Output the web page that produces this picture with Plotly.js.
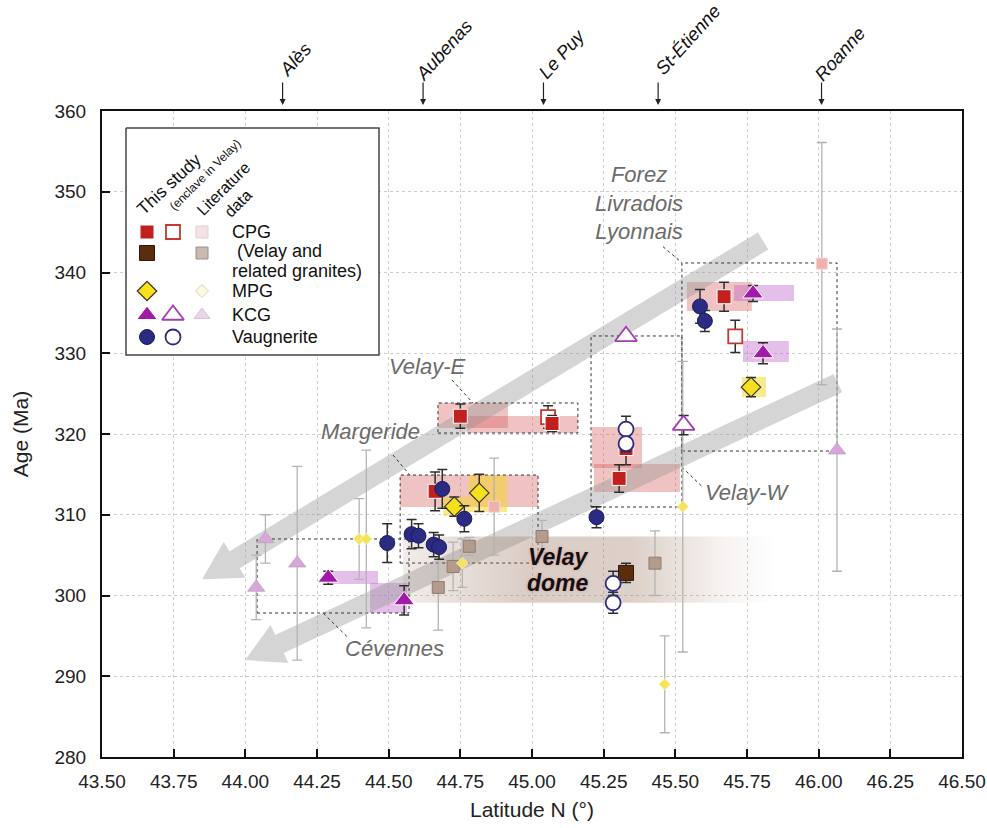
<!DOCTYPE html>
<html><head><meta charset="utf-8">
<script src="https://cdn.plot.ly/plotly-3.0.1.min.js"></script>
<style>html,body{margin:0;padding:0;background:#fff}#chart{width:987px;height:828px}</style>
</head><body><div id="chart"></div>
<script>
// ---------- data: latitude (°N), age (Ma), uncertainty (Ma) ----------
// CPG, this study
const cpgLat = [44.750, 45.070, 44.662, 45.328, 45.304, 45.670];
const cpgAge = [322.2, 321.3, 312.9, 318.2, 314.5, 337.0];
const cpgErr = [1.5, 1.0, 2.4, 2.0, 1.7, 1.8];
// CPG, enclaves in Velay
const cpgEnclLat = [45.056, 45.709];
const cpgEnclAge = [322.1, 332.1];
const cpgEnclErr = [1.4, 2.0];
// CPG, literature
const cpgLitLat = [44.868, 46.011];
const cpgLitAge = [311.0, 341.1];
const cpgLitErr = [6.0, 15.0];
// Velay and related granites
const velayLat = [45.328];
const velayAge = [302.8];
const velayErr = [1.2];
const velayLitLat = [44.673, 44.725, 44.781, 45.035, 45.429];
const velayLitAge = [301.0, 303.6, 306.1, 307.3, 304.0];
const velayLitErr = [5.3, 3.0, 1.1, 2.0, 4.0];
// MPG
const mpgLat = [44.729, 44.816, 45.764];
const mpgAge = [311.0, 312.7, 325.8];
const mpgErr = [1.2, 2.3, 1.2];
const mpgLitLat = [44.397, 44.422, 44.757, 45.463, 45.526];
const mpgLitAge = [307.0, 307.0, 304.0, 289.0, 311.0];
const mpgLitErr = [5.0, 11.0, 3.0, 6.0, 18.0];
// KCG
const kcgLat = [44.289, 44.554, 45.771, 45.806];
const kcgAge = [302.2, 299.4, 337.4, 330.0];
const kcgErr = [0.8, 1.8, 1.0, 1.3];
const kcgEnclLat = [45.328, 45.529];
const kcgEnclAge = [332.1, 321.1];
const kcgEnclErr = [0, 1.2];
const kcgLitLat = [44.070, 44.038, 44.181, 46.064];
const kcgLitAge = [307.0, 301.0, 304.0, 318.0];
const kcgLitErr = [3.0, 4.0, 12.0, 15.0];
// Vaugnerite
const vaugLat = [44.495, 44.580, 44.604, 44.657, 44.676, 44.687, 44.764, 45.225, 45.586, 45.603];
const vaugAge = [306.5, 307.6, 307.4, 306.3, 306.0, 313.2, 309.5, 309.7, 335.8, 334.0];
const vaugErr = [2.4, 1.8, 1.5, 1.5, 1.5, 2.4, 1.6, 1.3, 2.1, 1.3];
const vaugEnclLat = [45.328, 45.328, 45.283, 45.283];
const vaugEnclAge = [320.6, 318.8, 301.5, 299.1];
const vaugEnclErr = [1.6, 1.0, 1.5, 1.3];
// towns along the top axis
const cityNames = ['Alès', 'Aubenas', 'Le Puy', 'St-Étienne', 'Roanne'];
const cityLat = [44.13, 44.62, 45.04, 45.44, 46.01];
// age ranges [lat0, lat1, age0, age1]
const cpgRanges = [[44.672, 44.916, 320.74, 323.84], [44.773, 45.160, 320.12, 322.23],
                   [44.540, 45.021, 310.96, 314.92], [45.209, 45.384, 315.79, 320.87],
                   [45.216, 45.516, 312.82, 316.28], [45.540, 45.767, 335.23, 338.82]];
const mpgRanges = [[44.690, 44.780, 309.85, 312.20], [44.780, 44.913, 310.34, 314.92],
                   [45.732, 45.816, 324.58, 327.06]];
const kcgRanges = [[44.288, 44.463, 301.42, 303.03], [44.435, 44.564, 297.83, 301.55],
                   [45.705, 45.914, 336.47, 338.45], [45.736, 45.896, 328.92, 331.52]];
const domainBoxes = [[44.672, 45.160, 320.12, 323.84], [44.540, 45.021, 304.02, 314.92],
                     [44.041, 44.571, 297.83, 307.00], [45.206, 45.523, 310.96, 332.14],
                     [45.523, 46.064, 317.89, 341.18]];
const velayDome = [44.55, 45.85, 299.1, 307.3];

// ---------- page geometry ----------
const FONT = 'Liberation Sans, Arial, Helvetica, sans-serif';
const W = 987, H = 828, M = {l: 102, r: 25, t: 111, b: 71};
const PW = W - M.l - M.r, PH = H - M.t - M.b;
const XR = [43.5, 46.5], YR = [280, 360];
const kx = PW / (XR[1] - XR[0]), ky = PH / (YR[1] - YR[0]);
const fx = px => (px - M.l) / PW;
const fy = py => (H - M.b - py) / PH;

// ---------- marker styles ----------
const S = {
  cpg:      {symbol: 'square', size: 14, color: '#c21f1f', line: {color: '#ffffff', width: 1}},
  cpgEncl:  {symbol: 'square', size: 14, color: '#ffffff', line: {color: '#c8382e', width: 1.8}},
  cpgLit:   {symbol: 'square', size: 11, color: '#eeb1ad', line: {color: '#f3d6d6', width: 1}},
  velay:    {symbol: 'square', size: 15, color: '#5b2d0d', line: {color: '#2a1a10', width: 1}},
  velayLit: {symbol: 'square', size: 12, color: '#b39c8b', line: {color: '#8e7c70', width: 1}},
  mpg:      {symbol: 'diamond', size: 15, color: '#f6df1b', line: {color: '#333333', width: 1.2}},
  mpgLit:   {symbol: 'diamond', size: 9, color: '#f6e35c', line: {color: '#faf4c8', width: 0.8}},
  kcg:      {symbol: 'triangle-up', size: 18, color: '#a21aa8', line: {color: '#ffffff', width: 1}},
  kcgEncl:  {symbol: 'triangle-up', size: 19, color: '#ffffff', line: {color: '#a53cb0', width: 1.8}},
  kcgLit:   {symbol: 'triangle-up', size: 15, color: '#d8a6d9', line: {color: '#bba0bd', width: 0.8}},
  vaug:     {symbol: 'circle', size: 15, color: '#2b2b82', line: {color: '#1b1b5e', width: 1}},
  vaugEncl: {symbol: 'circle', size: 15, color: '#ffffff', line: {color: '#2b2b82', width: 1.8}}
};
const errStudy = arr => ({type: 'data', array: arr, visible: true, color: '#2e2e2e', thickness: 1.5, width: 5});
const errLit = arr => ({type: 'data', array: arr, visible: true, color: '#b3b3b3', thickness: 1.3, width: 5});

function pts(lat, age, err, marker, lit) {
  return {type: 'scatter', mode: 'markers', x: lat, y: age, marker: marker,
          error_y: lit ? errLit(err) : errStudy(err), hoverinfo: 'x+y', showlegend: false};
}

const traces = [];
// Velay dome band, fading at both ends
const domeColor = a => 'rgba(160,125,105,' + a + ')';
traces.push({
  type: 'scatter', mode: 'none', showlegend: false, hoverinfo: 'skip',
  x: [velayDome[0], velayDome[1], velayDome[1], velayDome[0], velayDome[0]],
  y: [velayDome[2], velayDome[2], velayDome[3], velayDome[3], velayDome[2]],
  fill: 'toself',
  fillgradient: {type: 'horizontal', start: velayDome[0], stop: velayDome[1],
    colorscale: [[0, domeColor(0.14)], [0.33, domeColor(0.38)], [0.62, domeColor(0.36)],
                 [0.85, domeColor(0.1)], [1, domeColor(0)]]}
});
traces.push(pts(cpgLitLat, cpgLitAge, cpgLitErr, S.cpgLit, true));
traces.push(pts(velayLitLat, velayLitAge, velayLitErr, S.velayLit, true));
traces.push(pts(kcgLitLat, kcgLitAge, kcgLitErr, S.kcgLit, true));
traces.push(pts(mpgLitLat, mpgLitAge, mpgLitErr, S.mpgLit, true));
traces.push(pts(cpgEnclLat, cpgEnclAge, cpgEnclErr, S.cpgEncl));
traces.push(pts(cpgLat, cpgAge, cpgErr, S.cpg));
traces.push(pts(velayLat, velayAge, velayErr, S.velay));
traces.push(pts(mpgLat, mpgAge, mpgErr, S.mpg));
traces.push(pts(kcgLat, kcgAge, kcgErr, S.kcg));
traces.push(pts(kcgEnclLat, kcgEnclAge, kcgEnclErr, S.kcgEncl));
traces.push(pts(vaugLat, vaugAge, vaugErr, S.vaug));
traces.push(pts(vaugEnclLat, vaugEnclAge, vaugEnclErr, S.vaugEncl));

// ---------- legend drawn on an overlay axis in paper units ----------
const legendCols = [147, 173, 202];
const legendRows = [
  {y: 232, marks: [S.cpg, S.cpgEncl, {symbol: 'square', size: 12, color: '#f3e3e4', line: {color: '#e2cfd0', width: 1}}]},
  {y: 253, marks: [S.velay, null, {symbol: 'square', size: 12, color: '#c9b9ae', line: {color: '#9e8e84', width: 1}}]},
  {y: 291, marks: [S.mpg, null, {symbol: 'diamond', size: 10, color: '#fbf8e6', line: {color: '#d8d4b8', width: 1}}]},
  {y: 315, marks: [S.kcg, S.kcgEncl, {symbol: 'triangle-up', size: 14, color: '#ead6ea', line: {color: '#d8c4d8', width: 1}}]},
  {y: 337, marks: [S.vaug, S.vaugEncl, null]}
];
const box = [126, 379, 128, 355];
traces.push({type: 'scatter', mode: 'lines', xaxis: 'x2', yaxis: 'y2', hoverinfo: 'skip', showlegend: false,
  x: [fx(box[0]), fx(box[1]), fx(box[1]), fx(box[0]), fx(box[0])],
  y: [fy(box[2]), fy(box[2]), fy(box[3]), fy(box[3]), fy(box[2])],
  fill: 'toself', fillcolor: '#ffffff', line: {color: '#444444', width: 1.5}});
legendRows.forEach(r => r.marks.forEach((m, i) => {
  if (!m) return;
  traces.push({type: 'scatter', mode: 'markers', xaxis: 'x2', yaxis: 'y2', hoverinfo: 'skip', showlegend: false,
               x: [fx(legendCols[i])], y: [fy(r.y)], marker: m});
}));

// ---------- shapes ----------
const shapes = [];
const rect = (b, fill) => ({type: 'rect', xref: 'x', yref: 'y', x0: b[0], x1: b[1], y0: b[2], y1: b[3],
                             fillcolor: fill, line: {width: 0}, layer: 'between'});
cpgRanges.forEach(b => shapes.push(rect(b, 'rgba(214,88,88,0.36)')));
mpgRanges.forEach(b => shapes.push(rect(b, 'rgba(246,214,30,0.5)')));
kcgRanges.forEach(b => shapes.push(rect(b, 'rgba(188,96,200,0.4)')));

// broad trend arrows, built in pixel space so the head keeps its shape
function arrowPath(tail, tip, half, headLen, headHalf) {
  const toPx = p => [(p[0] - XR[0]) * kx, (p[1] - YR[0]) * ky];
  const toD = p => [XR[0] + p[0] / kx, YR[0] + p[1] / ky];
  const t = toPx(tail), p = toPx(tip);
  const dx = t[0] - p[0], dy = t[1] - p[1], L = Math.hypot(dx, dy);
  const u = [dx / L, dy / L], n = [-u[1], u[0]];
  const b = [p[0] + u[0] * headLen, p[1] + u[1] * headLen];
  const off = (q, s) => [q[0] + n[0] * s, q[1] + n[1] * s];
  const poly = [p, off(b, headHalf), off(b, half), off(t, half), off(t, -half), off(b, -half), off(b, -headHalf)].map(toD);
  return 'M ' + poly.map(q => q[0].toFixed(4) + ',' + q[1].toFixed(3)).join(' L ') + ' Z';
}
const trendArrows = [[[45.806, 343.9], [43.849, 302.0]], [[46.067, 326.3], [43.999, 292.0]]];
trendArrows.forEach(a => shapes.push({type: 'path', xref: 'x', yref: 'y', path: arrowPath(a[0], a[1], 10, 38, 21),
  fillcolor: 'rgba(150,150,150,0.4)', line: {width: 0}, layer: 'between'}));

domainBoxes.forEach(b => shapes.push({type: 'rect', xref: 'x', yref: 'y', x0: b[0], x1: b[1], y0: b[2], y1: b[3],
  fillcolor: 'rgba(0,0,0,0)', line: {color: '#333333', width: 1, dash: 'dot'}, layer: 'between'}));
const leaders = [[44.721, 326.69, 44.794, 323.84], [44.515, 317.4, 44.574, 314.9], [44.272, 297.8, 44.355, 294.9],
                 [45.523, 315.9, 45.596, 313.4], [45.457, 343.2, 45.523, 341.2]];
leaders.forEach(l => shapes.push({type: 'line', xref: 'x', yref: 'y', x0: l[0], y0: l[1], x1: l[2], y1: l[3],
  line: {color: '#333333', width: 1, dash: 'dot'}, layer: 'between'}));

// ---------- annotations ----------
const ann = [];
const grey = (text, x, y) => ({text: text, x: x, y: y, xref: 'x', yref: 'y', showarrow: false,
  font: {family: FONT, size: 22, color: '#6b6b6b', style: 'italic'}, xanchor: 'center', yanchor: 'middle'});
ann.push(grey('Forez<br>Livradois<br>Lyonnais', 45.373, 348.6));
ann.push(grey('Velay-E', 44.637, 328.3));
ann.push(grey('Margeride', 44.435, 320.25));
ann.push(grey('Cévennes', 44.522, 293.4));
ann.push(grey('Velay-W', 45.75, 312.7));
const domeFont = {family: FONT, size: 23, color: '#111', weight: 'bold', style: 'italic',
                  shadow: '0px 0px 3px rgba(215,150,150,0.95)'};
ann.push({text: 'Velay', x: 45.091, y: 304.8, xref: 'x', yref: 'y', showarrow: false, font: domeFont});
ann.push({text: 'dome', x: 45.091, y: 301.5, xref: 'x', yref: 'y', showarrow: false, font: domeFont});

// towns with down arrows above the frame
cityNames.forEach((c, i) => {
  ann.push({text: '', x: cityLat[i], y: 1 + 6 / PH, xref: 'x', yref: 'paper', showarrow: true,
            ax: 0, ay: -24, arrowhead: 2, arrowsize: 1, arrowwidth: 1.2, arrowcolor: '#222'});
  const h = c.length * 8.8 / 2;
  ann.push({text: c, x: cityLat[i], y: (H - M.b - 82) / PH, xref: 'x', yref: 'paper', showarrow: false,
            xshift: 0.66 * h + 1, yshift: 0.75 * h + 9, textangle: -48,
            font: {family: FONT, size: 18.5, color: '#111', style: 'italic'}, xanchor: 'center', yanchor: 'middle'});
});

// legend texts
const lt = (text, px, py, size, angle, anchor) => ({text: text, x: fx(px), y: fy(py), xref: 'paper', yref: 'paper',
  showarrow: false, font: {family: FONT, size: size, color: '#111'}, textangle: angle || 0,
  xanchor: anchor || 'left', yanchor: 'middle'});
ann.push(lt('This study', 169, 184, 17.5, -43, 'center'));
ann.push(lt('(enclave in Velay)', 205, 175, 12, -45, 'center'));
ann.push(lt('Literature<br>data', 231, 196, 16, -45, 'center'));
ann.push(lt('CPG', 230, 232, 18));
ann.push(lt('(Velay and', 235, 251, 18));
ann.push(lt('related granites)', 230, 271, 18));
ann.push(lt('MPG', 230, 291, 18));
ann.push(lt('KCG', 230, 315, 18));
ann.push(lt('Vaugnerite', 230, 337, 18));

const axisCommon = {
  showgrid: true, gridcolor: '#cdcdcd', griddash: 'dot', gridwidth: 1, zeroline: false,
  showline: true, linecolor: '#111', linewidth: 2, mirror: true,
  ticks: 'inside', ticklen: 8, tickwidth: 2, tickcolor: '#111',
  tickfont: {family: FONT, size: 19, color: '#222'}
};
const layout = {
  width: W, height: H, margin: M, paper_bgcolor: '#fff', plot_bgcolor: '#fff', showlegend: false,
  font: {family: FONT},
  xaxis: Object.assign({}, axisCommon, {range: XR, tick0: 43.5, dtick: 0.25, tickformat: '.2f',
    ticklabelstandoff: 6, title: {text: 'Latitude N (°)', font: {family: FONT, size: 21, color: '#222'}, standoff: 12}}),
  yaxis: Object.assign({}, axisCommon, {range: YR, tick0: 280, dtick: 10, ticklabelstandoff: 10,
    title: {text: 'Age (Ma)', font: {family: FONT, size: 21, color: '#222'}, standoff: 20}}),
  xaxis2: {range: [0, 1], overlaying: 'x', anchor: 'y2', visible: false, fixedrange: true},
  yaxis2: {range: [0, 1], overlaying: 'y', anchor: 'x2', visible: false, fixedrange: true},
  shapes: shapes, annotations: ann
};
Plotly.newPlot('chart', traces, layout, {staticPlot: true, displayModeBar: false});
</script>
</body></html>
